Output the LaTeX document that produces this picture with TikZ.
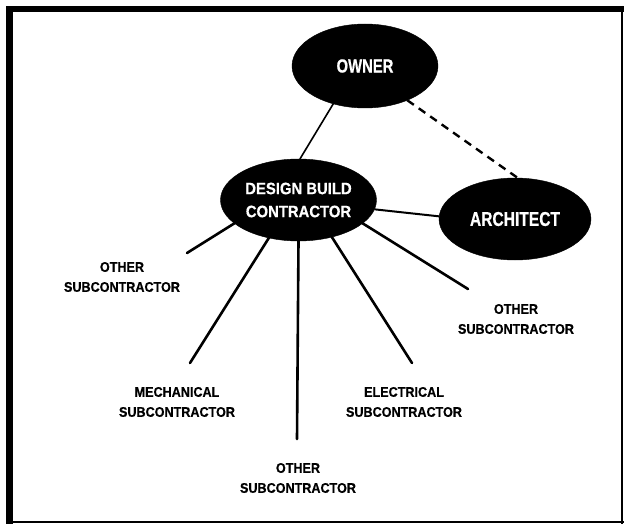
\documentclass[tikz,border=0pt]{standalone}
\usepackage{fontspec}
\setmainfont{Liberation Sans}
\newfontfamily\fHeavy{Liberation Sans Bold}[FakeBold=0.5,FakeStretch=0.9]
\newfontfamily\fNarrow{Liberation Sans Bold}[FakeBold=0.5,FakeStretch=0.78]
\usetikzlibrary{shapes.geometric}
\begin{document}
\begin{tikzpicture}[x=1pt,y=-1pt,
  party/.style={ellipse,fill=black,draw=black,text=white,inner sep=0pt,outer sep=0pt,align=center},
  sublabel/.style={align=center,inner sep=0pt,font=\fHeavy\fontsize{14}{20}\selectfont},
  spoke/.style={line width=2.6pt,line cap=round},
  link/.style={line width=1.6pt},
  dashlink/.style={line width=2.4pt,dash pattern=on 8pt off 6pt}
]
\useasboundingbox (0,0) rectangle (624,524);
\fill[white] (0,0) rectangle (624,524);
% frame
\draw[line width=6.5pt] (9.5,525) -- (9.5,9) -- (624,9);
\draw[line width=2pt] (6,522) -- (624,522);
\draw[line width=1.5pt] (622,6) -- (622,524);
% main parties
\node[party,minimum width=146pt,minimum height=84pt,font=\fNarrow\fontsize{19}{22}\selectfont] (own) at (365,66) {OWNER};
\node[party,minimum width=156pt,minimum height=82pt,font=\fHeavy\fontsize{16.5}{23}\selectfont] (dbc) at (298.5,200) {DESIGN BUILD\\CONTRACTOR};
\node[party,minimum width=152pt,minimum height=82pt,font=\fNarrow\fontsize{20}{22}\selectfont] (arc) at (515,219) {ARCHITECT};
% labels
\node[sublabel] (s1) at (122,277) {OTHER\\SUBCONTRACTOR};
\node[sublabel] (s2) at (177,402) {MECHANICAL\\SUBCONTRACTOR};
\node[sublabel] (s3) at (298,478) {OTHER\\SUBCONTRACTOR};
\node[sublabel] (s4) at (404,402) {ELECTRICAL\\SUBCONTRACTOR};
\node[sublabel] (s5) at (516,319) {OTHER\\SUBCONTRACTOR};
% spoke ends
\coordinate (e1) at (187,253);
\coordinate (e2) at (190,363);
\coordinate (e3) at (297,439);
\coordinate (e4) at (412,363);
\coordinate (e5) at (468,289);
% connectors
\draw[link] (own.230) -- (dbc.88);
\draw[dashlink] (own.321) -- (arc.86);
\draw[line width=2pt] (dbc.353) -- (arc.178);
\draw[spoke] (dbc.200) -- (e1);
\draw[spoke] (dbc.232) -- (e2);
\draw[spoke] (dbc.270) -- (e3);
\draw[spoke] (dbc.312) -- (e4);
\draw[spoke] (dbc.340) -- (e5);
\end{tikzpicture}
\end{document}
